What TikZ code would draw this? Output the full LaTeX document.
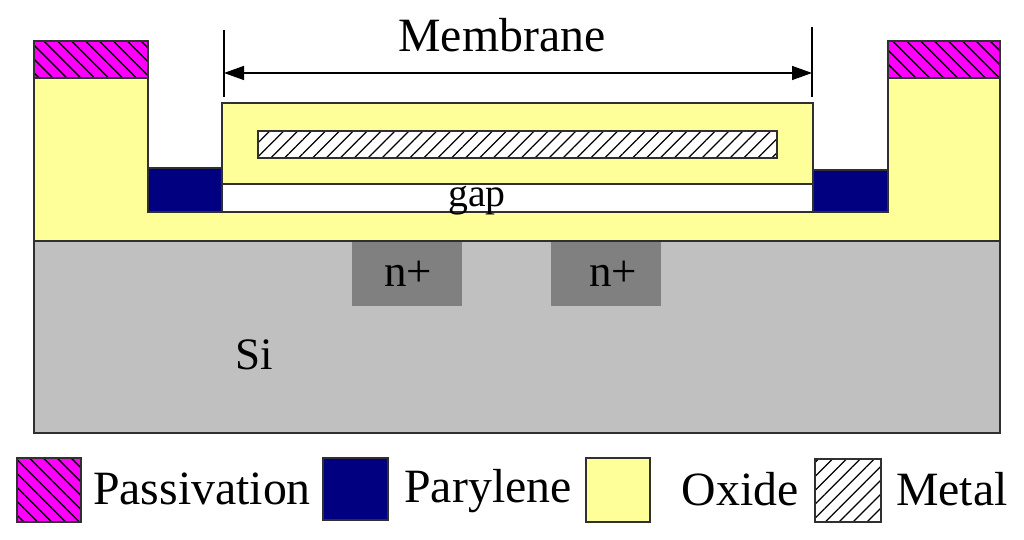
\documentclass[tikz,border=0pt]{standalone}
\usepackage{fontspec}
\setmainfont{Liberation Serif}
\usepackage{tikz}
\usetikzlibrary{calc}
\usetikzlibrary{arrows.meta}
\usetikzlibrary{patterns.meta}
\definecolor{oxidecol}{HTML}{FFFF99}
\definecolor{silicon}{HTML}{C0C0C0}
\definecolor{dopedcol}{HTML}{808080}
\definecolor{parylenecol}{HTML}{000080}
\definecolor{passcol}{HTML}{FF00FF}
\definecolor{edgecol}{HTML}{303030}
\tikzset{
  layer/.style={draw=edgecol, line width=0.35pt},
  oxide/.style={layer, fill=oxidecol},
  parylene/.style={layer, fill=parylenecol},
  passivation/.style={layer, preaction={fill=passcol}, pattern={Lines[angle=-45, distance=2.8pt, line width=0.4pt]}},
  metal/.style={layer, preaction={fill=white}, pattern={Lines[angle=45, distance=2.8pt, line width=0.35pt]}},
  bigtext/.style={anchor=base, inner sep=0pt, font=\fontsize{13.6}{16}\selectfont},
  midtext/.style={anchor=base, inner sep=0pt, font=\fontsize{12.8}{15}\selectfont},
}
\begin{document}
\begin{tikzpicture}
\useasboundingbox (0, 0) rectangle (10.24, 5.40);

% substrate
\filldraw[layer, fill=silicon] (0.34, 1.07) rectangle (10.00, 2.99);
\fill[dopedcol] (3.52, 2.34) rectangle (4.62, 2.99);
\fill[dopedcol] (5.51, 2.34) rectangle (6.61, 2.99);

% oxide and top layers
\filldraw[oxide] (0.34, 2.99) -- (0.34, 4.62) -- (1.48, 4.62) -- (1.48, 3.28) -- (8.88, 3.28) -- (8.88, 4.62) -- (10.00, 4.62) -- (10.00, 2.99) -- cycle;
\filldraw[passivation] (0.34, 4.62) rectangle (1.48, 4.99);
\filldraw[passivation] (8.88, 4.62) rectangle (10.00, 4.99);
\filldraw[parylene] (1.48, 3.28) rectangle (2.22, 3.72);
\filldraw[parylene] (8.13, 3.28) rectangle (8.88, 3.70);

% membrane
\filldraw[layer, fill=white] (2.22, 3.28) rectangle (8.13, 3.56);
\filldraw[oxide] (2.22, 3.56) rectangle (8.13, 4.37);
\filldraw[metal] (2.58, 3.82) rectangle (7.77, 4.09);

% width marker
\coordinate (tickLa) at (2.24, 5.10);
\coordinate (tickLb) at (2.24, 4.43);
\coordinate (tickRa) at (8.12, 5.13);
\coordinate (tickRb) at (8.12, 4.43);
\coordinate (arrowL) at (2.24, 4.67);
\coordinate (arrowR) at (8.12, 4.67);
\draw[line width=0.4pt] (tickLa) -- (tickLb);
\draw[line width=0.4pt] (tickRa) -- (tickRb);
\draw[line width=0.4pt, {Triangle[length=0.2cm, width=0.14cm]}-{Triangle[length=0.2cm, width=0.14cm]}] (arrowL) -- (arrowR);

% labels
\node[bigtext] (membrane) at (5.02, 4.88) {Membrane};
\node[anchor=base, inner sep=0pt, font=\fontsize{11.3}{13}\selectfont] (gap) at (4.77, 3.33) {gap};
\node[midtext] (nleft) at (4.08, 2.53) {n+};
\node[midtext] (nright) at (6.13, 2.53) {n+};
\node[midtext] (si) at (2.54, 1.70) {Si};

% legend
\filldraw[passivation] (0.17, 0.18) rectangle (0.81, 0.82);
\filldraw[parylene] (3.23, 0.20) rectangle (3.88, 0.82);
\filldraw[oxide] (5.86, 0.18) rectangle (6.50, 0.82);
\filldraw[metal] (8.15, 0.18) rectangle (8.81, 0.81);
\node[bigtext] (passlabel) at (2.02, 0.355) {Passivation};
\node[bigtext] (parylabel) at (4.88, 0.37) {Parylene};
\node[bigtext] (oxidelabel) at (7.40, 0.345) {Oxide};
\node[bigtext] (metallabel) at (9.52, 0.345) {Metal};

\end{tikzpicture}
\end{document}
